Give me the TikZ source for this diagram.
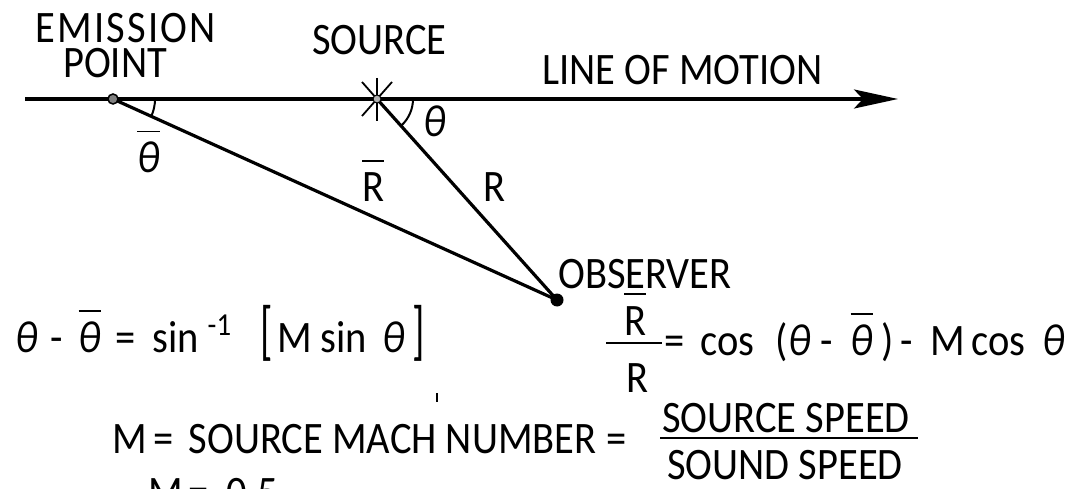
\documentclass[tikz,border=0pt]{standalone}
\usepackage{fontspec}
\setmainfont{Carlito}[FakeStretch=0.9]
\usepackage{graphicx}
\usetikzlibrary{arrows.meta}
\newlength\ovlw
\newcommand\ovl[1]{\settowidth\ovlw{#1}\rlap{\rule[0.9em]{\ovlw}{1.8pt}}#1}
\newcommand\putat[2]{\rlap{\hspace*{#1pt}#2}}
\newcommand\thi{{\itshape θ}}
\newcommand\tallbr[1]{\scalebox{1}[1.45]{#1}}
\begin{document}
\begin{tikzpicture}[x=1pt,y=-1pt,
  txt/.style={font=\fontsize{45}{48}\selectfont, inner sep=0pt, anchor=base west},
  ray/.style={line width=3.2pt},
  angarc/.style={line width=2pt},
  starline/.style={line width=1.8pt}]
\useasboundingbox (0,0) rectangle (1073,489);
\clip (0,0) rectangle (1073,489);
% geometry
\coordinate (start) at (25,99);
\coordinate (tip) at (898,99);
\coordinate (E) at (113,99);
\coordinate (S) at (377,99);
\coordinate (O) at (557,300);
\draw[line width=3.2pt,-{Stealth[length=44pt,width=19pt,inset=9pt]}] (start) -- (tip);
\draw[ray] (E) -- (O);
\draw[ray] (S) -- (O);
\draw[angarc] (E) ++(42pt,0pt) arc[start angle=0,end angle=-25,radius=42pt];
\draw[angarc] (S) ++(36pt,0pt) arc[start angle=0,end angle=-48,radius=36pt];
% source star
\draw[starline] (S) ++(0pt,21pt) -- ++(0pt,-43pt);
\draw[starline] (S) ++(-15pt,17pt) -- ++(30pt,-34pt);
\draw[starline] (S) ++(15pt,17pt) -- ++(-30pt,-34pt);
\draw[line width=1pt,fill=gray!60] (S) circle (4pt);
% emission point and observer
\draw[line width=1.5pt,fill=gray] (E) circle (5pt);
\fill (O) circle (6.5pt);
% labels
\node[txt] (em1) at (35,43) {\addfontfeature{LetterSpace=5}EMISSION};
\node[txt] (em2) at (63,78) {POINT};
\node[txt] (src) at (312,55) {SOURCE};
\node[txt] (lom) at (542,85) {LINE OF MOTION};
\node[txt] (obs) at (558,288) {OBSERVER};
\node[txt] (thb) at (137,173) {\ovl{\thi}};
\node[txt] (th) at (423,137) {\thi};
\node[txt] (Rb) at (362,202) {\ovl{R}};
\node[txt] (Rl) at (483,202) {R};
% equation 1
\node[txt] (eqa) at (15,352) {\putat{0}{\thi}\putat{35}{-}\putat{63}{\ovl{\thi}}\putat{100}{=}\putat{137}{sin}\putat{192}{\raisebox{17pt}{\fontsize{32}{34}\selectfont -1}}\putat{245}{\tallbr{[}}\putat{262}{M}\putat{305}{sin}\putat{367}{\thi}\putat{397}{\tallbr{]}}};
% equation 2
\node[txt] (fnum) at (624,335) {\ovl{R}};
\node[txt] (fden) at (626,392) {R};
\coordinate (fb1) at (606,343);
\coordinate (fb2) at (662,343);
\draw[line width=2pt] (fb1) -- (fb2);
\node[txt] (eqb) at (664,355) {\putat{0}{=}\putat{36}{cos}\putat{111}{(}\putat{124}{\thi}\putat{156}{-}\putat{186}{\ovl{\thi}}\putat{217}{)}\putat{236}{-}\putat{266}{M}\putat{307}{cos}\putat{378}{\thi}};
% Mach number line
\node[txt] (eqc) at (112,453) {\putat{0}{M}\putat{41}{=}\putat{76}{SOURCE MACH NUMBER}\putat{494}{=}};
\node[txt] (snum) at (662,432) {SOURCE SPEED};
\node[txt] (sden) at (667,479) {SOUND SPEED};
\coordinate (sb1) at (660,438);
\coordinate (sb2) at (918,438);
\draw[line width=2.2pt] (sb1) -- (sb2);
\node[txt] (eqd) at (148,507) {\putat{0}{M}\putat{40}{=}\putat{78}{0.5}};
\coordinate (tk1) at (437,393);
\coordinate (tk2) at (437,402);
\draw[line width=1.5pt] (tk1) -- (tk2);
\end{tikzpicture}
\end{document}
